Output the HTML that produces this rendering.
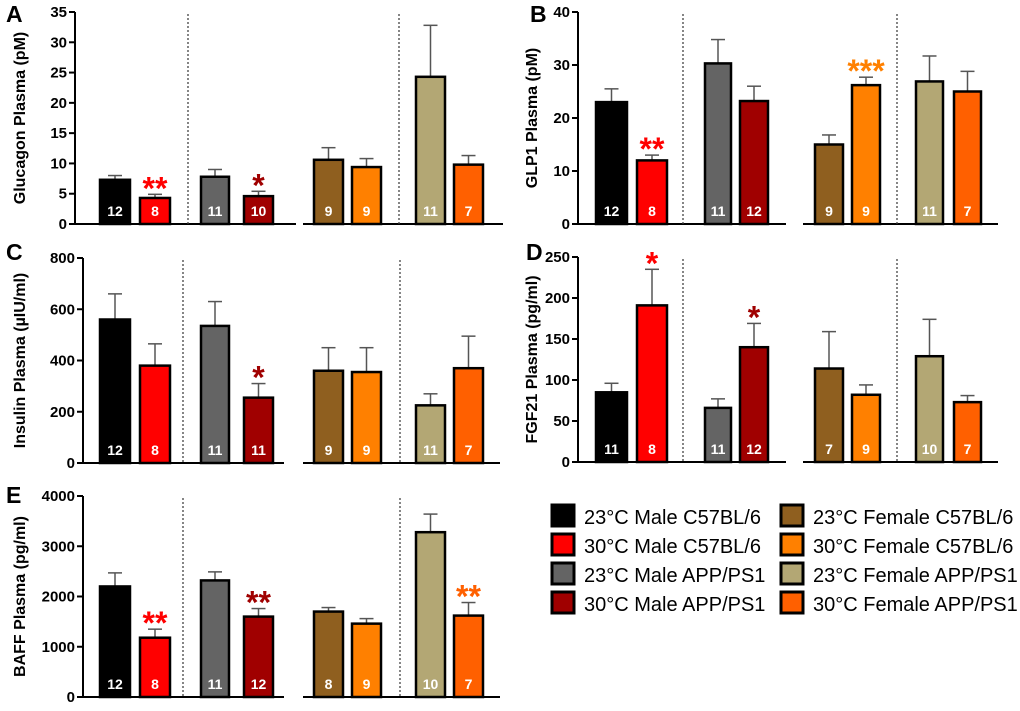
<!DOCTYPE html>
<html><head><meta charset="utf-8"><style>
body{margin:0;background:#fff;width:1020px;height:706px;overflow:hidden;font-family:"Liberation Sans",Arial,sans-serif}
svg text{font-family:"Liberation Sans",Arial,sans-serif}
</style></head><body>
<svg id="chart" width="1020" height="706"></svg>
<script>
const groups = ["23°C Male C57BL/6","30°C Male C57BL/6","23°C Male APP/PS1","30°C Male APP/PS1","23°C Female C57BL/6","30°C Female C57BL/6","23°C Female APP/PS1","30°C Female APP/PS1"];
const colors = ["#000000","#ff0000","#646464","#a00000","#8f5f1f","#ff8000","#b3a774","#ff6000"];
const glucagonMeans = [7.3,4.3,7.8,4.6,10.6,9.4,24.3,9.8];
const glucagonErr = [0.7,0.6,1.2,0.8,2.0,1.4,8.5,1.5];
const glucagonN = [12,8,11,10,9,9,11,7];
const glucagonTicks = [0,5,10,15,20,25,30,35];
const glucagonStars = ["","**","","*","","","",""];
const glp1Means = [23,12,30.3,23.2,15,26.2,26.9,25];
const glp1Err = [2.5,1,4.5,2.8,1.8,1.5,4.8,3.8];
const glp1N = [12,8,11,12,9,9,11,7];
const glp1Ticks = [0,10,20,30,40];
const glp1Stars = ["","**","","","","***","",""];
const insulinMeans = [560,380,535,255,360,355,225,370];
const insulinErr = [100,85,95,55,90,95,45,125];
const insulinN = [12,8,11,11,9,9,11,7];
const insulinTicks = [0,200,400,600,800];
const insulinStars = ["","","","*","","","",""];
const fgf21Means = [85,191,66,140,114,82,129,73];
const fgf21Err = [11,44,11,29,45,12,45,8];
const fgf21N = [11,8,11,12,7,9,10,7];
const fgf21Ticks = [0,50,100,150,200,250];
const fgf21Stars = ["","*","","*","","","",""];
const baffMeans = [2200,1180,2320,1600,1700,1460,3280,1620];
const baffErr = [270,170,170,160,80,100,360,260];
const baffN = [12,8,11,12,8,9,10,7];
const baffTicks = [0,1000,2000,3000,4000];
const baffStars = ["","**","","**","","","","**"];

const NS="http://www.w3.org/2000/svg";
const svg=document.getElementById('chart');
function mk(tag,attrs,parent,txt){const e=document.createElementNS(NS,tag);for(const k in attrs)e.setAttribute(k,attrs[k]);if(txt!==undefined)e.textContent=txt;(parent||svg).appendChild(e);return e;}

const leftBars=[[100,130],[140,170],[201,229],[244,273],[314,343],[352,381],[416,445],[454,483]];
const rightBars=[[596,627],[637,667],[705,731],[740,768],[815,843],[852,880],[916,943],[954,981]];

function panel(cfg){
  const g=mk('g',{});
  
  
  const max=cfg.ticks[cfg.ticks.length-1];
  const y=v=>cfg.y0-(v/max)*(cfg.y0-cfg.yTop);
  const lbl=mk('text',{x:cfg.lx,y:cfg.ly,'font-size':23,'font-weight':'bold'},g,cfg.letter);
  
  
  const t=mk('text',{transform:`translate(${cfg.tx},${(cfg.y0+cfg.yTop)/2}) rotate(-90)`,'text-anchor':'middle','font-size':16,'font-weight':'bold'},g,cfg.title);
  
  
  mk('line',{x1:cfg.ax,x2:cfg.ax,y1:cfg.yTop,y2:cfg.y0+1,stroke:'#000','stroke-width':2},g);
  cfg.ticks.forEach(v=>{
    mk('line',{x1:cfg.ax-6,x2:cfg.ax,y1:y(v),y2:y(v),stroke:'#000','stroke-width':2},g);
    const tl=mk('text',{x:cfg.ax-8,y:y(v)+5,'text-anchor':'end','font-size':15,'font-weight':'bold'},g,v);
    
    
  });
  mk('line',{x1:cfg.ax,x2:cfg.seg1,y1:cfg.y0,y2:cfg.y0,stroke:'#000','stroke-width':2},g);
  mk('line',{x1:cfg.seg2[0],x2:cfg.seg2[1],y1:cfg.y0,y2:cfg.y0,stroke:'#000','stroke-width':2},g);
  cfg.dots.forEach(dx=>mk('line',{x1:dx,x2:dx,y1:cfg.yTop+2,y2:cfg.y0,stroke:'#444','stroke-width':1.3,'stroke-dasharray':'2,2'},g));
  cfg.means.forEach((m,i)=>{
    const [x1,x2]=cfg.bars[i];const cx=(x1+x2)/2;
    const top=y(m),et=y(m+cfg.err[i]);
    mk('line',{x1:cx,x2:cx,y1:et,y2:top,stroke:'#555','stroke-width':1.5},g);
    mk('line',{x1:cx-7,x2:cx+7,y1:et,y2:et,stroke:'#555','stroke-width':1.5},g);
    const r=mk('rect',{x:x1,y:top,width:x2-x1,height:cfg.y0-top,fill:colors[i],stroke:'#000','stroke-width':2.5},g);
    
    
    const n=mk('text',{x:cx,y:cfg.y0-8,'text-anchor':'middle','font-size':14,'font-weight':'bold',fill:'#fff'},g,cfg.n[i]);
    
    
    if(cfg.stars[i]){
      const s=mk('text',{x:cx,y:et+5,'text-anchor':'middle','font-size':32,'font-weight':'bold',fill:colors[i]},g,cfg.stars[i]);
      
      
    }
  });
}
panel({name:'panel-a-glucagon',letter:'A',lx:6,ly:22,title:'Glucagon Plasma (pM)',tx:25,ax:75,y0:224,yTop:12,ticks:glucagonTicks,means:glucagonMeans,err:glucagonErr,n:glucagonN,stars:glucagonStars,bars:leftBars,seg1:296,seg2:[303,503],dots:[188,399]});
panel({name:'panel-b-glp1',letter:'B',lx:530,ly:22,title:'GLP1 Plasma (pM)',tx:537,ax:578,y0:224,yTop:12,ticks:glp1Ticks,means:glp1Means,err:glp1Err,n:glp1N,stars:glp1Stars,bars:rightBars,seg1:786,seg2:[803,998],dots:[683,897]});
panel({name:'panel-c-insulin',letter:'C',lx:6,ly:260,title:'Insulin Plasma (µIU/ml)',tx:25,ax:83,y0:463,yTop:258,ticks:insulinTicks,means:insulinMeans,err:insulinErr,n:insulinN,stars:insulinStars,bars:leftBars,seg1:284,seg2:[303,500],dots:[183,400]});
panel({name:'panel-d-fgf21',letter:'D',lx:526,ly:260,title:'FGF21 Plasma (pg/ml)',tx:537,ax:578,y0:462,yTop:257,ticks:fgf21Ticks,means:fgf21Means,err:fgf21Err,n:fgf21N,stars:fgf21Stars,bars:rightBars,seg1:786,seg2:[803,998],dots:[683,897]});
panel({name:'panel-e-baff',letter:'E',lx:6,ly:503,title:'BAFF Plasma (pg/ml)',tx:25,ax:83,y0:697,yTop:496,ticks:baffTicks,means:baffMeans,err:baffErr,n:baffN,stars:baffStars,bars:leftBars,seg1:284,seg2:[303,500],dots:[183,400]});

const lg=mk('g',{});


groups.forEach((name,i)=>{
  const c=i<4?0:1, r=i%4;
  const sx=c===0?552:781, sy=505+r*29;
  const e=mk('g',{},lg);
  
  
  mk('rect',{x:sx,y:sy,width:22,height:21,fill:colors[i],stroke:'#000','stroke-width':3},e);
  mk('text',{x:sx+32,y:sy+19,'font-size':20},e,name);
});
</script>
</body></html>
